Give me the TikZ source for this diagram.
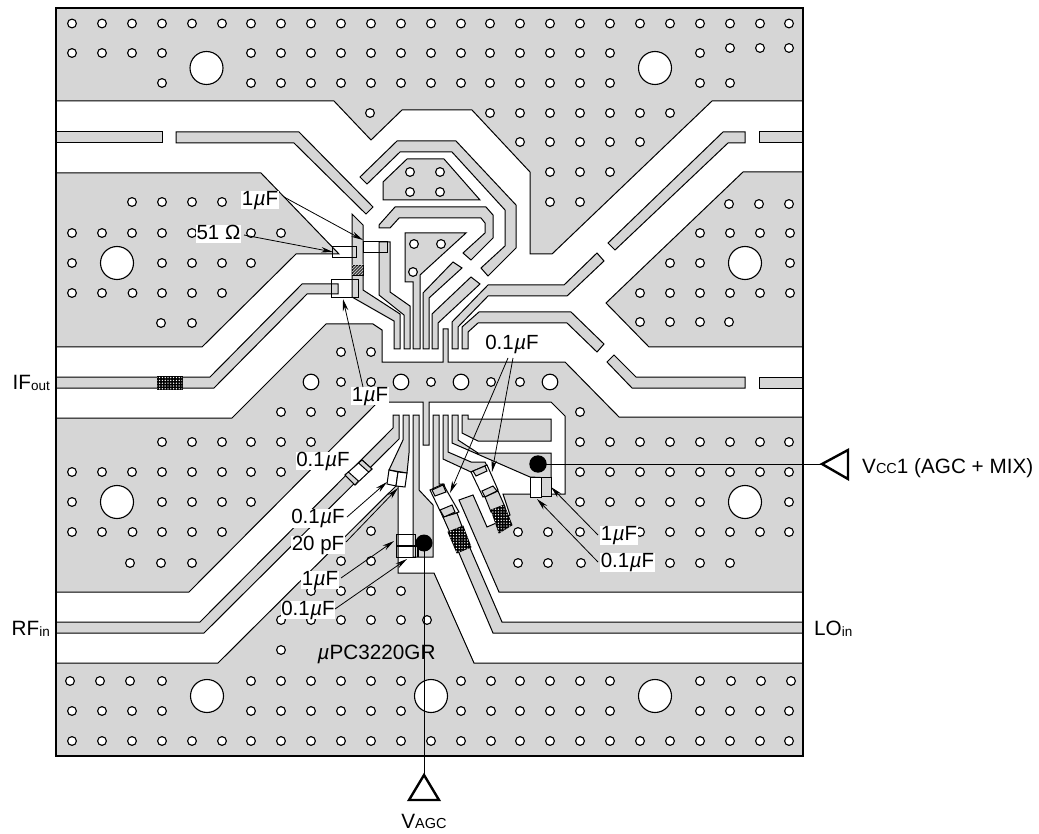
\documentclass[tikz,border=0pt]{standalone}
\usepackage{fontspec}
\setmainfont{Liberation Sans}
\usetikzlibrary{patterns,arrows.meta}
\definecolor{padgray}{HTML}{D6D6D6}
\pgfdeclarepatternformonly{fdots}{\pgfqpoint{-1pt}{-1pt}}{\pgfqpoint{2pt}{2pt}}{\pgfqpoint{2.8pt}{2.8pt}}{\pgfpathcircle{\pgfqpoint{0pt}{0pt}}{0.72pt}\pgfusepath{fill}}
\newcommand{\uM}{{\itshape\kern0.5pt µ}}
\newcommand{\uF}{\uM F}
\newcommand{\subs}[1]{\raisebox{-1pt}{\fontsize{13.5}{14}\selectfont #1}}
\newcommand{\smc}[1]{{\fontsize{14.5}{15}\selectfont #1}}
\tikzset{
  pad/.style={fill=padgray,draw=black,line width=1pt,line join=miter},
  capbox/.style={fill=white,draw=black,line width=1pt},
  capout/.style={draw=black,line width=1pt},
  via/.style={fill=white,draw=black,line width=1.1pt},
  hatchbase/.style={fill=black,draw=black,line width=0.8pt},
  hatchtop/.style={pattern=fdots,pattern color=white},
  lbl/.style={font=\fontsize{20.5}{22}\selectfont,fill=white,inner xsep=0.5pt,inner ysep=0pt,text height=14.8pt,text depth=4pt},
  txt/.style={font=\fontsize{20.7}{22}\selectfont,inner sep=0pt},
  leader/.style={line width=0.8pt,-{Stealth[length=12pt,width=5.5pt]}},
  feed/.style={line width=1pt},
  tri/.style={fill=white,draw=black,line width=2.4pt,line join=miter}
}
\newcommand{\vias}[2]{\foreach \vx in {#2} {\fill[via] (\vx,#1) circle[radius=4.4];}}
\newcommand{\bigvia}[2]{\fill[via] (#1,#2) circle[radius=16.5];}
\newcommand{\midvia}[2]{\fill[via] (#1,#2) circle[radius=7.8];}
\begin{document}
\begin{tikzpicture}[x=1pt,y=-1pt]
\path[use as bounding box,fill=white] (0,0) rectangle (1039,834);
% ground pads
\filldraw[pad] (56,8)--(803,8)--(803,101)--(712,101)--(552,254)--(530,254)--(530,172)--(472,110)--(402,110)--(371,140)--(334,101)--(56,101)--cycle;
\filldraw[pad] (56,173)--(261,173)--(339,254)--(296,254)--(202,347)--(56,347)--cycle;
\filldraw[pad] (743,172)--(803,172)--(803,347)--(649,347)--(606,303)--cycle;
\filldraw[pad] (56,418)--(232,418)--(326,324)--(373,324)--(382,330)--(382,362)--(443,362)--(443,329)--(448,329)--(448,362)--(565,362)--(619,417)--(803,417)--(803,592)--(499,592)--(459,500)--(473,495)--(487,527)--(494,524)--(510,515)--(503,494)--(565,494)--(565,416)--(551,402)--(429,402)--(429,445)--(423,445)--(423,402)--(378,402)--(189,592)--(56,592)--cycle;
\filldraw[pad] (56,663)--(218,663)--(398,484)--(398,573)--(434,573)--(474,663)--(803,663)--(803,756)--(56,756)--cycle;
% long strips
\filldraw[pad] (56,132)--(162,132)--(162,143)--(56,143)--cycle;
\filldraw[pad] (176,132)--(299,132)--(373,207)--(366,214)--(294,143)--(176,143)--cycle;
\filldraw[pad] (608,243)--(723,132)--(745,132)--(745,143)--(728,143)--(615,250)--cycle;
\filldraw[pad] (759,132)--(803,132)--(803,143)--(759,143)--cycle;
\filldraw[pad] (607,362)--(614,355)--(636,377)--(745,377)--(745,388)--(632,388)--cycle;
\filldraw[pad] (759,377)--(803,377)--(803,388)--(759,388)--cycle;
\filldraw[pad] (56,377)--(210,377)--(302,284)--(338,284)--(338,294)--(307,294)--(214,388)--(56,388)--cycle;
\filldraw[pad] (56,622)--(200,622)--(393,428)--(393,415)--(399,415)--(399,439)--(204,633)--(56,633)--cycle;
\filldraw[pad] (443,517)--(457,513)--(470,548)--(502,622)--(803,622)--(803,633)--(493,633)--(459,553)--cycle;
% inner loops
\filldraw[pad] (360,177)--(397,141)--(456,141)--(516,205)--(516,248)--(488,276)--(481,268)--(505,246)--(505,210)--(452,152)--(400,152)--(367,184)--cycle;
\filldraw[pad] (383,182)--(407,159)--(444,159)--(480,200)--(383,200)--cycle;
\filldraw[pad] (379,225)--(395,207)--(486,207)--(493,215)--(493,238)--(471,260)--(463,253)--(485,233)--(485,223)--(481,218)--(399,218)--(390,228)--(379,228)--cycle;
\filldraw[pad] (405,233)--(466,233)--(420,275)--(420,349)--(413,349)--(413,282)--(405,282)--cycle;
% upper pins
\filldraw[pad] (352,214)--(363,225)--(363,290)--(400,314)--(400,349)--(394,349)--(394,321)--(352,297)--cycle;
\filldraw[pad] (379,242)--(390,242)--(390,292)--(410,306)--(410,349)--(404,349)--(404,315)--(379,295)--cycle;
\filldraw[pad] (453,262)--(462,268)--(429,298)--(429,349)--(423,349)--(423,293)--cycle;
\filldraw[pad] (471,277)--(480,284)--(438,323)--(438,349)--(432,349)--(432,314)--cycle;
\filldraw[pad] (452,349)--(452,322)--(488,285)--(564,285)--(597,253)--(604,261)--(567,296)--(488,296)--(458,327)--(458,349)--cycle;
\filldraw[pad] (462,349)--(462,327)--(479,312)--(571,312)--(604,344)--(597,352)--(567,323)--(478,323)--(468,332)--(468,349)--cycle;
% lower pins
\filldraw[pad] (403,415)--(409,415)--(409,453)--(407,473)--(389,470)--(403,440)--cycle;
\filldraw[pad] (413,415)--(419,415)--(419,490)--(433,505)--(433,557)--(413,557)--cycle;
\filldraw[pad] (433,415)--(439,415)--(439,484)--(444,484)--(446,492)--(435,496)--(433,490)--cycle;
\filldraw[pad] (443,415)--(448,415)--(448,452)--(471,462)--(485,462)--(487,466)--(471,472)--(443,459)--cycle;
\filldraw[pad] (452,415)--(458,415)--(458,440)--(478,453)--(551,453)--(551,478)--(530,477)--(452,443)--cycle;
\filldraw[pad] (462,415)--(468,415)--(468,419)--(551,419)--(551,441)--(478,441)--(462,433)--cycle;
% vias
\vias{23.5}{72,102,132,162,192,222,251,281,311,341,371,401,431,461,490,520,550,580,610,640,670,700,730,760,789}
\vias{53}{72,102,132,162,251,281,311,341,371,401,431,461,490,520,550,580,610,700}
\vias{48}{730,760,789}
\vias{83}{162,251,281,311,341,371,401,431,461,490,520,550,580,610,700,730}
\vias{113}{370,490,520,550,580,610,640,670}
\vias{142}{520,550,580,610,640}
\vias{172}{550,580,610}
\vias{202}{550,580}
\bigvia{206.5}{68}\bigvia{655}{68}
\vias{172}{410,440}\vias{192}{410,440}
\vias{244}{414,441}\vias{272}{413}
\vias{202}{132,162,192,222}
\vias{233}{72,102,132,162,192,222,251,281}
\vias{263}{72,162,192,222,251}
\vias{293}{72,102,132.5,162,192,222}
\vias{323}{161,192}
\bigvia{117}{263}
\vias{204}{729,759,789}
\vias{233}{700,730,760,790}
\vias{263}{670,700,790}
\vias{293}{640,670,700,730,760,790}
\vias{322}{640,670,700,729}
\bigvia{745}{263}
\vias{352}{341,371}
\vias{382}{341,371,431,491,520}
\midvia{311}{382}\midvia{401}{382}\midvia{461}{382}\midvia{550}{382}
\vias{412}{281,311,341,580}
\vias{442}{162,192,222,251,281,311,580,610,640,670,700,730,760,789}
\vias{472}{72,102,132,162,192,222,251,281,580,610,640,670,700,730,760,789}
\vias{502}{72,162,192,222,251,580,610,640,670,700,789}
\vias{532}{72,102,132.5,162,192,222,518,548,580,610,640,670,700,730,760,789}
\vias{563}{130,161,192,518,548,581,610,640,670,700,730}
\bigvia{117}{502}\bigvia{745}{502}
\vias{531}{371}
\vias{561}{341,371}
\vias{591}{311,341,371,401}
\vias{620}{281,311,341,371,401,427}
\vias{650}{281}
\vias{681}{70,100,130,162,251,281,311,341,371,401,461,491,520,550,580,610,700,731,761,791}
\vias{711}{72,102,132,162,251,281,311,341,371,401,461,491,520,550,580,610,700,730,760,789}
\vias{741}{72,102,132,162,192,222,251,281,311,341,371,401,431,461,491,520,550,580,610,640,670,700,730,760,789}
\bigvia{207}{696}\bigvia{431}{696}\bigvia{655}{696}
% component outlines
\draw[capout] (332,247) rectangle (356,258);
\draw[capout] (363,242) rectangle (387,253);
\draw[capout] (331,280) rectangle (358,298);
\fill[hatchbase,fill=black!75] (352,265) rectangle (363,275);
\fill[pattern=north east lines,pattern color=padgray] (352,265) rectangle (363,275);
% IF hatch
\filldraw[hatchbase] (157,376) rectangle (182,389);
\fill[hatchtop] (157,376) rectangle (182,389);
% RF cap
\filldraw[capbox] (345,475)--(362,460)--(372,469)--(355,485)--cycle;
\filldraw[pad] (345,475)--(348.4,472)--(358.4,481)--(355,485)--cycle;
\filldraw[pad] (358.6,463)--(362,460)--(372,469)--(368.6,472)--cycle;
% twin cap
\filldraw[capbox] (389,470)--(398,472)--(396,486)--(387,484)--cycle;
\filldraw[capbox] (398,472)--(407,473)--(405,487)--(396,486)--cycle;
% AGC cap
\draw[capout] (396,534) rectangle (415,557);
\draw[line width=1.8pt] (396,546)--(417,546);
\draw[line width=1.2pt] (418,547)--(418,557);
% LO cap
\filldraw[capbox] (430,490)--(443,484)--(459,512)--(443,517)--cycle;
\filldraw[pad] (432,490)--(443,485)--(446,492)--(435,496)--cycle;
\filldraw[pad] (440,510)--(452,505)--(455,512)--(444,517)--cycle;
\filldraw[hatchbase] (448,532)--(463,526)--(471,547)--(457,553)--cycle;
\fill[hatchtop] (448,532)--(463,526)--(471,547)--(457,553)--cycle;
% second right cap
\filldraw[capbox] (471,472)--(487,465)--(498,490)--(483,497)--cycle;
\filldraw[pad] (473,471)--(485,466)--(487,471)--(476,476)--cycle;
\filldraw[pad] (482,491)--(493,486)--(497,491)--(485,497)--cycle;
\filldraw[pad] (485,497)--(498,491)--(505,507)--(491,512)--cycle;
\filldraw[hatchbase] (491,510)--(504,505)--(512,525)--(499,533)--cycle;
\fill[hatchtop] (491,510)--(504,505)--(512,525)--(499,533)--cycle;
% Vcc caps
\filldraw[capbox] (530,477) rectangle (541,497);
\filldraw[pad] (541,477) rectangle (551,496);
% dots
\fill[black] (424,543) circle[radius=8.5];
\fill[black] (538,464) circle[radius=8.7];
% terminals
\node[txt,anchor=base west] (vccl) at (862,473) {V\smc{CC}1 (AGC + MIX)};
\node[txt,anchor=base east] (ifo) at (50,389) {IF\subs{out}};
\node[txt,anchor=base east] (rfi) at (50,635) {RF\subs{in}};
\node[txt,anchor=base west] (loi) at (814,635) {LO\subs{in}};
\node[txt,anchor=base] (vag) at (424,828) {V\smc{AGC}};
\node[txt,anchor=base west] (pn) at (317,659) {\uM PC3220GR};
% labels
\node[lbl] (a1) at (260,200) {1\uF};
\node[lbl] (a2) at (218.5,234) {51 Ω};
\node[lbl] (a3) at (370,396) {1\uF};
\node[lbl] (a4) at (512,344.5) {0.1\uF};
\node[lbl] (a5) at (323,461) {0.1\uF};
\node[lbl] (a6) at (318,518.5) {0.1\uF};
\node[lbl] (a7) at (318,545) {20 pF};
\node[lbl] (a8) at (320,580) {1\uF};
\node[lbl] (a9) at (308,610) {0.1\uF};
\node[lbl] (a10) at (619,535.5) {1\uF};
\node[lbl] (a11) at (627.5,562.5) {0.1\uF};
% leader ends
\coordinate (t1) at (363,240);
\coordinate (t2) at (333,252);
\coordinate (t3) at (343,299);
\coordinate (t4) at (450,493);
\coordinate (t5) at (492,472);
\coordinate (t6) at (387,482);
\coordinate (t7) at (398,488);
\coordinate (t8) at (394,541);
\coordinate (t9) at (407,559);
\coordinate (t10) at (551,487);
\coordinate (t11) at (537,499);
\draw[leader] (284,197)--(t1);
\draw[leader] (244,235)--(t2);
\draw[leader] (363,387)--(t3);
\draw[leader] (508,358)--(t4);
\draw[leader] (513,358)--(t5);
\draw[leader] (347,517)--(t6);
\draw[leader] (346,542)--(t7);
\draw[leader] (341,578)--(t8);
\draw[leader] (335,609)--(t9);
\draw[leader] (598,535)--(t10);
\draw[leader] (598,562)--(t11);
% frame
\draw[line width=2.6pt] (56,8) rectangle (803,756);
% feeds
\coordinate (dv) at (424,543);
\coordinate (dc) at (538,464);
\coordinate (ta) at (424,775);
\coordinate (tc) at (822,464);
\draw[feed] (dv)--(ta);
\draw[feed] (dc)--(tc);
\draw[tri] (ta)--(409,800)--(439,800)--cycle;
\draw[tri] (tc)--(848,450)--(848,479)--cycle;
\end{tikzpicture}
\end{document}
